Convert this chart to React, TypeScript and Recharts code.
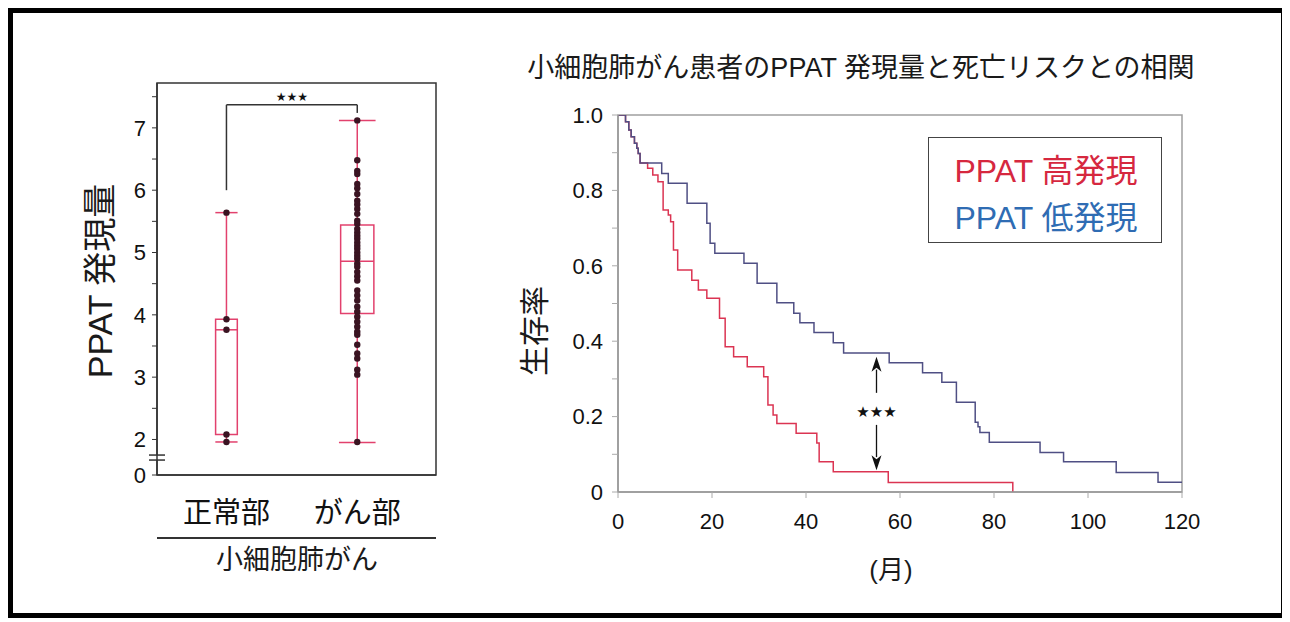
import React from 'react';
import {
  ComposedChart,
  LineChart,
  Line,
  XAxis,
  YAxis,
  Scatter,
  ReferenceArea,
  ReferenceLine,
  ReferenceDot,
} from 'recharts';

const FONT = "'Liberation Sans', Arial, 'Noto Sans CJK JP', sans-serif";

// ---------- Box plot data ----------
const boxCategories = ['正常部', 'がん部'];
const boxPositions = [1, 2];
const boxMin = [1.96, 1.95];
const boxQ1 = [2.08, 4.02];
const boxMedian = [3.76, 4.86];
const boxQ3 = [3.93, 5.44];
const boxMax = [5.64, 7.12];
const normalPoints = [5.64, 3.93, 3.76, 2.08, 1.96];
const cancerPoints = [
  7.12, 6.48, 6.31, 6.26, 6.1, 6.03, 5.94, 5.83, 5.77, 5.7, 5.62, 5.51, 5.46,
  5.38, 5.32, 5.27, 5.22, 5.16, 5.11, 5.06, 5.0, 4.95, 4.9, 4.82, 4.77, 4.69,
  4.62, 4.55, 4.39, 4.31, 4.23, 4.13, 4.05, 3.97, 3.89, 3.81, 3.73, 3.68, 3.52,
  3.38, 3.3, 3.12, 3.04, 1.96,
];
const boxYTicks = [1.43, 2, 2.5, 3, 3.5, 4, 4.5, 5, 5.5, 6, 6.5, 7, 7.5];
const boxYTickLabels: Record<string, string> = {
  '1.43': '0', '2': '2', '3': '3', '4': '4', '5': '5', '6': '6', '7': '7',
};
const bracketY = 7.37;
const bracketLeftBottom = 6.0;
const bracketRightBottom = 7.24;
const bracketStarsY = 7.49;
const axisBreakY = 1.71;

// ---------- Survival data (months, survival rate) ----------
const highMonths = [
  0, 1.6, 2.3, 2.8, 3.5, 4.0, 4.3, 4.7, 6.3, 7.4, 8.5, 9.6, 10.7, 11.2, 11.8,
  12.7, 15.7, 17.1, 18.9, 21.6, 22.8, 24.6, 27.5, 31.0, 31.9, 33.0, 33.8, 37.9,
  42.3, 42.8, 45.8, 57.5, 84.0,
];
const highSurvival = [
  1.0, 0.982, 0.96, 0.942, 0.925, 0.912, 0.898, 0.873, 0.859, 0.841, 0.823,
  0.748, 0.735, 0.717, 0.642, 0.589, 0.562, 0.536, 0.514, 0.461, 0.385, 0.359,
  0.332, 0.306, 0.231, 0.204, 0.182, 0.156, 0.13, 0.08, 0.054, 0.025, 0,
];
const lowMonths = [
  0, 1.6, 2.3, 2.8, 3.5, 4.0, 4.3, 4.7, 9.3, 10.7, 14.7, 18.9, 19.6, 20.6, 26.8,
  29.6, 33.8, 37.4, 38.7, 41.7, 45.8, 48.0, 57.7, 64.8, 68.9, 72.0, 76.0, 76.6,
  77.0, 79.0, 89.8, 94.8, 106.0, 114.9, 120,
];
const lowSurvival = [
  1.0, 0.982, 0.96, 0.942, 0.925, 0.912, 0.898, 0.873, 0.845, 0.819, 0.766,
  0.713, 0.66, 0.633, 0.607, 0.554, 0.502, 0.474, 0.449, 0.423, 0.396, 0.369,
  0.343, 0.316, 0.291, 0.238, 0.185, 0.173, 0.158, 0.132, 0.105, 0.08, 0.052,
  0.026, 0.026,
];
const kmXTicks = [0, 20, 40, 60, 80, 100, 120];
const kmYTicks = [0, 0.1, 0.2, 0.3, 0.4, 0.5, 0.6, 0.7, 0.8, 0.9, 1.0];
const kmYTickLabels: Record<string, string> = {
  '0': '0', '0.2': '0.2', '0.4': '0.4', '0.6': '0.6', '0.8': '0.8', '1': '1.0',
};
const arrowMonth = 55;
const arrowTop = [0.263, 0.359];
const arrowBottom = [0.178, 0.058];
const starsSurvival = 0.213;

const highData = highMonths.map((t, i) => ({ t, s: highSurvival[i] }));
const lowData = lowMonths.map((t, i) => ({ t, s: lowSurvival[i] }));
const normalData = normalPoints.map((y) => ({ x: boxPositions[0], y }));
const cancerData = cancerPoints.map((y) => ({ x: boxPositions[1], y }));

// ---------- styles ----------
const BOX_COLOR = '#e2416d';
const BOX_HALF = [0.083, 0.127];
const CAP_HALF = [0.085, 0.14];
const RED = '#db3452';
const BLUE = '#4f4f84';
const O = 13; // padding-box origin in page coordinates

const dotShape = (p: any) => <circle cx={p.cx} cy={p.cy} r={3.2} fill="#3a1422" />;

const breakShape = (p: any) => {
  const x = p.x1;
  const y = p.y1;
  return (
    <g>
      <rect x={x - 4} y={y - 2.5} width={8} height={5} fill="#fff" />
      <line x1={x - 8} x2={x + 8} y1={y - 2.5} y2={y - 2.5} stroke="#333" strokeWidth={1.5} />
      <line x1={x - 8} x2={x + 8} y1={y + 2.5} y2={y + 2.5} stroke="#333" strokeWidth={1.5} />
    </g>
  );
};

const arrowShape = (p: any) => {
  const { x1, y1, x2, y2 } = p;
  const dir = y2 < y1 ? -1 : 1;
  const headLen = 15;
  const headHalf = 5;
  return (
    <g>
      <line x1={x1} y1={y1} x2={x2} y2={y2 - dir * headLen + dir * 2} stroke="#111" strokeWidth={1.3} />
      <polygon
        points={`${x2},${y2} ${x2 - headHalf},${y2 - dir * headLen} ${x2},${y2 - dir * (headLen - 4)} ${x2 + headHalf},${y2 - dir * headLen}`}
        fill="#111"
      />
    </g>
  );
};

const starsShape = (size: number) => (p: any) => (
  <text
    x={p.cx}
    y={p.cy}
    textAnchor="middle"
    dominantBaseline="central"
    fontSize={size}
    fontFamily="'DejaVu Sans', sans-serif"
    fill="#111"
  >
    ★★★
  </text>
);

const abs = (x: number, y: number, extra: React.CSSProperties = {}): React.CSSProperties => ({
  position: 'absolute',
  left: x - O,
  top: y - O,
  transform: 'translate(-50%, -50%)',
  whiteSpace: 'nowrap',
  fontFamily: FONT,
  color: '#1a1a1a',
  lineHeight: 1,
  ...extra,
});

function BoxPanel() {
  return (
    <ComposedChart
      width={420}
      height={470}
      margin={{ top: 23, right: 14, bottom: 0, left: 0 }}
    >
      <XAxis
        dataKey="x"
        type="number"
        domain={[0.469, 2.602]}
        ticks={boxPositions}
        interval={0}
        tickFormatter={(v: number) => boxCategories[boxPositions.indexOf(v)] ?? ''}
        tickLine={false}
        axisLine={{ stroke: '#333', strokeWidth: 1.5 }}
        tick={{ fontSize: 29, fill: '#111', fontFamily: FONT }}
        tickMargin={21}
        height={55}
        allowDataOverflow
      />
      <YAxis
        dataKey="y"
        type="number"
        domain={[1.43, 7.72]}
        ticks={boxYTicks}
        interval={0}
        tickFormatter={(v: number) => boxYTickLabels[String(v)] ?? ''}
        tickSize={5}
        tickLine={{ stroke: '#333' }}
        axisLine={{ stroke: '#333', strokeWidth: 1.5 }}
        tick={{ fontSize: 22, fill: '#111', fontFamily: FONT }}
        tickMargin={6}
        width={127}
        allowDataOverflow
      />
      <ReferenceArea
        x1={0.469}
        x2={2.602}
        y1={1.43}
        y2={7.72}
        fill="none"
        stroke="#333"
        strokeWidth={1.5}
        ifOverflow="visible"
      />
      {boxPositions.map((c, i) => (
        <ReferenceArea
          key={'box' + i}
          x1={c - BOX_HALF[i]}
          x2={c + BOX_HALF[i]}
          y1={boxQ1[i]}
          y2={boxQ3[i]}
          fill="none"
          stroke={BOX_COLOR}
          strokeWidth={1.5}
          ifOverflow="visible"
        />
      ))}
      {boxPositions.map((c, i) => (
        <ReferenceLine
          key={'med' + i}
          segment={[{ x: c - BOX_HALF[i], y: boxMedian[i] }, { x: c + BOX_HALF[i], y: boxMedian[i] }]}
          stroke={BOX_COLOR}
          strokeWidth={1.5}
          ifOverflow="visible"
        />
      ))}
      {boxPositions.map((c, i) => (
        <ReferenceLine
          key={'wt' + i}
          segment={[{ x: c, y: boxQ3[i] }, { x: c, y: boxMax[i] }]}
          stroke={BOX_COLOR}
          strokeWidth={1.5}
          ifOverflow="visible"
        />
      ))}
      {boxPositions.map((c, i) => (
        <ReferenceLine
          key={'wb' + i}
          segment={[{ x: c, y: boxMin[i] }, { x: c, y: boxQ1[i] }]}
          stroke={BOX_COLOR}
          strokeWidth={1.5}
          ifOverflow="visible"
        />
      ))}
      {boxPositions.map((c, i) => (
        <ReferenceLine
          key={'ct' + i}
          segment={[{ x: c - CAP_HALF[i], y: boxMax[i] }, { x: c + CAP_HALF[i], y: boxMax[i] }]}
          stroke={BOX_COLOR}
          strokeWidth={1.5}
          ifOverflow="visible"
        />
      ))}
      {boxPositions.map((c, i) => (
        <ReferenceLine
          key={'cb' + i}
          segment={[{ x: c - CAP_HALF[i], y: boxMin[i] }, { x: c + CAP_HALF[i], y: boxMin[i] }]}
          stroke={BOX_COLOR}
          strokeWidth={1.5}
          ifOverflow="visible"
        />
      ))}
      <Scatter data={normalData} dataKey="y" shape={dotShape} isAnimationActive={false} />
      <Scatter data={cancerData} dataKey="y" shape={dotShape} isAnimationActive={false} />
      {/* significance bracket */}
      <ReferenceLine
        segment={[{ x: boxPositions[0], y: bracketLeftBottom }, { x: boxPositions[0], y: bracketY }]}
        stroke="#333"
        strokeWidth={1.5}
        ifOverflow="visible"
      />
      <ReferenceLine
        segment={[{ x: boxPositions[0], y: bracketY }, { x: boxPositions[1], y: bracketY }]}
        stroke="#333"
        strokeWidth={1.5}
        ifOverflow="visible"
      />
      <ReferenceLine
        segment={[{ x: boxPositions[1], y: bracketY }, { x: boxPositions[1], y: bracketRightBottom }]}
        stroke="#333"
        strokeWidth={1.5}
        ifOverflow="visible"
      />
      <ReferenceDot
        x={(boxPositions[0] + boxPositions[1]) / 2}
        y={bracketStarsY}
        r={0}
        shape={starsShape(12)}
        ifOverflow="visible"
      />
      <ReferenceLine y={axisBreakY} shape={breakShape} ifOverflow="visible" />
    </ComposedChart>
  );
}

function SurvivalPanel() {
  return (
    <LineChart width={720} height={470} margin={{ top: 25, right: 18, bottom: 0, left: 0 }}>
      <XAxis
        dataKey="t"
        type="number"
        domain={[0, 120]}
        ticks={kmXTicks}
        interval={0}
        tickSize={6}
        tickLine={{ stroke: '#aaa' }}
        axisLine={{ stroke: '#999', strokeWidth: 1.5 }}
        tick={{ fontSize: 22, fill: '#111', fontFamily: FONT }}
        tickMargin={15}
        height={68}
        allowDataOverflow
      />
      <YAxis
        type="number"
        domain={[0, 1]}
        ticks={kmYTicks}
        interval={0}
        tickFormatter={(v: number) => kmYTickLabels[String(Math.round(v * 10) / 10)] ?? ''}
        tickSize={6}
        tickLine={{ stroke: '#aaa' }}
        axisLine={{ stroke: '#999', strokeWidth: 1.5 }}
        tick={{ fontSize: 22, fill: '#111', fontFamily: FONT }}
        tickMargin={9}
        width={138}
        allowDataOverflow
      />
      <ReferenceArea
        x1={0}
        x2={120}
        y1={0}
        y2={1}
        fill="none"
        stroke="#a0a0a0"
        strokeWidth={1.5}
        ifOverflow="visible"
      />
      <Line
        data={highData}
        dataKey="s"
        type="stepAfter"
        stroke={RED}
        strokeWidth={1.5}
        dot={false}
        isAnimationActive={false}
      />
      <Line
        data={lowData}
        dataKey="s"
        type="stepAfter"
        stroke={BLUE}
        strokeWidth={1.5}
        dot={false}
        isAnimationActive={false}
      />
      <ReferenceLine
        segment={[{ x: arrowMonth, y: arrowTop[0] }, { x: arrowMonth, y: arrowTop[1] }]}
        shape={arrowShape}
        ifOverflow="visible"
      />
      <ReferenceLine
        segment={[{ x: arrowMonth, y: arrowBottom[0] }, { x: arrowMonth, y: arrowBottom[1] }]}
        shape={arrowShape}
        ifOverflow="visible"
      />
      <ReferenceDot x={arrowMonth} y={starsSurvival} r={0} shape={starsShape(15)} ifOverflow="visible" />
    </LineChart>
  );
}

export default function App() {
  return (
    <div
      style={{
        position: 'relative',
        width: 1278,
        height: 610,
        border: '5px solid #000',
        boxSizing: 'border-box',
        background: '#fff',
        fontFamily: FONT,
        overflow: 'hidden',
      }}
    >
      <div style={{ position: 'absolute', left: 30 - O, top: 60 - O }}>
        <BoxPanel />
      </div>
      <div style={{ position: 'absolute', left: 480 - O, top: 90 - O }}>
        <SurvivalPanel />
      </div>

      <div style={abs(100, 281, { fontSize: 34, transform: 'translate(-50%, -50%) rotate(-90deg)' })}>
        PPAT 発現量
      </div>
      <div
        style={{
          position: 'absolute',
          left: 157 - O,
          top: 537 - O,
          width: 279,
          height: 1.5,
          background: '#333',
        }}
      />
      <div style={abs(297, 560, { fontSize: 27 })}>小細胞肺がん</div>

      <div style={abs(861, 68, { fontSize: 27 })}>小細胞肺がん患者のPPAT 発現量と死亡リスクとの相関</div>
      <div style={abs(535, 331, { fontSize: 30, transform: 'translate(-50%, -50%) rotate(-90deg)' })}>
        生存率
      </div>
      <div style={abs(891, 570, { fontSize: 26 })}>(月)</div>

      <div
        style={{
          position: 'absolute',
          left: 928 - O,
          top: 137 - O,
          width: 234,
          height: 106,
          border: '1.5px solid #444',
          boxSizing: 'border-box',
          background: '#fff',
        }}
      />
      <div style={abs(1046, 171, { fontSize: 32, color: '#d6283f' })}>PPAT 高発現</div>
      <div style={abs(1046, 218, { fontSize: 32, color: '#2f6cb3' })}>PPAT 低発現</div>
    </div>
  );
}
